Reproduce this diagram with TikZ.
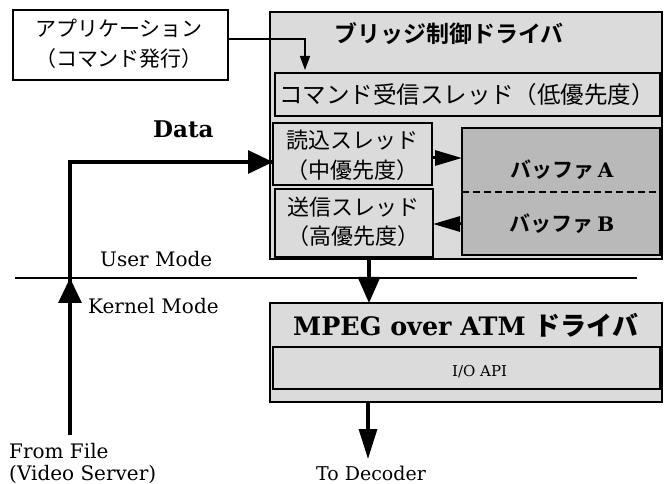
\documentclass[tikz,border=0pt]{standalone}
\usepackage{fontspec}
\setmainfont{DejaVu Serif}
\newfontfamily\jp{Noto Sans CJK JP}
\newfontfamily\jpb{Noto Sans CJK JP Bold}
\usetikzlibrary{arrows.meta}
\newcommand{\fs}[1]{\fontsize{#1}{#1}\selectfont}
\begin{document}
\begin{tikzpicture}[x=1pt,y=-1pt,
  frame/.style={draw, line width=1.4pt, anchor=north west, inner sep=0pt, outer sep=0pt},
  lightbox/.style={frame, fill=gray!28},
  darkbox/.style={frame, fill=gray!55},
  whitebox/.style={frame, fill=white},
  lbl/.style={inner sep=0pt, align=center},
  blbl/.style={inner sep=0pt, anchor=base west},
  bigarrow/.style={line width=3.2pt, -{Triangle[length=25pt,width=23pt]}},
  thinarrow/.style={line width=1.4pt, -{Triangle[length=14pt,width=10pt]}}
]
\useasboundingbox (0,0) rectangle (665,484);

% application box
\node[whitebox, minimum width=215pt, minimum height=70pt] (app) at (13,10) {};
\node[lbl, font=\jp\fs{21}] (apptxt) at (119,28) {アプリケーション};
\node[lbl, font=\jp\fs{21}] (apptxt2) at (119,59) {（コマンド発行）};

% bridge driver
\node[lightbox, minimum width=392pt, minimum height=247pt] (bridge) at (270,12) {};
\node[lbl, font=\jpb\fs{23}] (btitle) at (449,34) {ブリッジ制御ドライバ};
\node[lightbox, minimum width=385pt, minimum height=43pt] (cmd) at (275,73) {};
\node[lbl, font=\jp\fs{23.5}] (cmdtxt) at (467,95) {コマンド受信スレッド（低優先度）};

\node[lightbox, minimum width=159pt, minimum height=62pt] (read) at (273,123) {};
\node[lbl, font=\jp\fs{22}] (readtxt) at (352,140) {読込スレッド};
\node[lbl, font=\jp\fs{22}] (readtxt2) at (352,170) {（中優先度）};

\node[lightbox, minimum width=158pt, minimum height=68pt] (send) at (275,189) {};
\node[lbl, font=\jp\fs{22}] (sendtxt) at (353,207) {送信スレッド};
\node[lbl, font=\jp\fs{22}] (sendtxt2) at (353,236) {（高優先度）};

\node[darkbox, minimum width=198pt, minimum height=127pt] (buf) at (462,128) {};
\draw[line width=1.2pt, dash pattern=on 7pt off 4pt] (buf.west |- 0,192) coordinate (dl) -- (buf.east |- 0,192) coordinate (dr);
\node[lbl, font=\jpb\fs{21}] (bufa) at (562,170) {バッファ\,{\rmfamily\bfseries\fs{20}A}};
\node[lbl, font=\jpb\fs{21}] (bufb) at (562,224) {バッファ\,{\rmfamily\bfseries\fs{20}B}};

% MPEG driver
\node[lightbox, minimum width=392pt, minimum height=99pt] (mpeg) at (270,303) {};
\node[blbl, font=\bfseries\fs{25.4}] (mtitle) at (293,335) {MPEG over ATM {\jp\fs{26}ドライバ}};
\node[lightbox, minimum width=387pt, minimum height=42pt] (io) at (273,347) {};
\node[blbl, font=\fs{15}] (iotxt) at (452,376) {I/O API};

% mode line
\coordinate (ml) at (15,278);
\coordinate (mr) at (637,278);
\draw[line width=1.1pt] (ml) -- (mr);
\node[blbl, font=\fs{20}] (user) at (100,267) {User Mode};
\node[blbl, font=\fs{20}] (kernel) at (88,313) {Kernel Mode};

% data path
\node[blbl, font=\bfseries\fs{23}] (data) at (153,138) {Data};
\coordinate (src) at (70,435);
\coordinate (mid) at (70,310);
\coordinate (cross) at (70,278);
\coordinate (corner) at (70,162);
\draw[line width=3.2pt] (src) -- (corner) -- (read.west |- corner);
\draw[bigarrow] (corner) -- (read.west |- corner);
\draw[bigarrow] (mid) -- (cross);
\node[blbl, font=\fs{20}] (from) at (9,458) {From File};
\node[blbl, font=\fs{20}] (from2) at (9,480) {(Video Server)};

% command arrow
\draw[thinarrow] (app.east |- 0,39) -- (305,39) -- (305,70);

% buffer arrows
\draw[line width=3pt, -{Triangle[length=27pt,width=15pt]}] (read.east |- 0,158) -- (buf.west |- 0,158);
\draw[line width=3pt, -{Triangle[length=27pt,width=15pt]}] (buf.west |- 0,224) -- (send.east |- 0,224);

% down arrows
\draw[line width=3.2pt, -{Triangle[length=26pt,width=22pt]}] (bridge.south -| 369,0) -- (mpeg.north -| 369,0);
\draw[line width=3.2pt, -{Triangle[length=30pt,width=18pt]}] (mpeg.south -| 368,0) -- (368,459) coordinate (dec);
\node[blbl, font=\fs{19}] (todec) at (316,480) {To Decoder};
\end{tikzpicture}
\end{document}
